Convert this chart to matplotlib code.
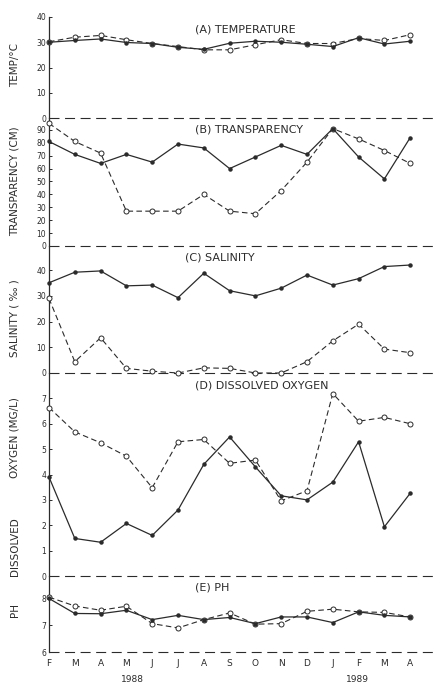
import numpy as np
import matplotlib
matplotlib.use("Agg")
import matplotlib.pyplot as plt
import matplotlib.transforms as mtransforms

# ------------------------------------------------------------------
# Datos (linea continua = puntos llenos,
# linea discontinua = circulos abiertos)
# ------------------------------------------------------------------
meses = ["F", "M", "A", "M", "J", "J", "A", "S", "O", "N", "D", "J", "F", "M", "A"]
anios = ["1988", "1989"]

temp_solida = [30.0, 30.7, 31.3, 29.9, 29.5, 28.0, 27.2, 29.6, 30.4, 30.0, 29.2, 28.3, 31.8, 29.3, 30.4]
temp_discont = [30.2, 32.0, 32.7, 31.0, 29.5, 28.3, 27.0, 27.0, 29.0, 31.0, 29.5, 29.5, 31.5, 30.7, 33.0]

transp_solida = [81, 71, 64, 71, 65, 79, 76, 60, 69, 78, 71, 91, 69, 52, 84]
transp_discont = [95, 81, 72, 27, 27, 27, 40, 27, 25, 43, 65, 91, 83, 74, 64]

sal_solida = [35.1, 39.2, 39.7, 33.9, 34.2, 29.3, 38.8, 32.0, 30.0, 33.0, 38.1, 34.2, 36.7, 41.4, 42.0]
sal_discont = [29.0, 4.4, 13.7, 1.8, 0.7, 0.0, 2.0, 1.8, 0.0, 0.0, 4.4, 12.5, 19.0, 9.3, 7.9]

oxi_solida = [3.9, 1.48, 1.33, 2.07, 1.6, 2.6, 4.4, 5.48, 4.3, 3.16, 3.0, 3.7, 5.29, 1.94, 3.26]
oxi_discont = [6.64, 5.68, 5.25, 4.72, 3.48, 5.29, 5.38, 4.44, 4.57, 2.96, 3.36, 7.19, 6.1, 6.25, 6.0]

ph_solida = [8.0, 7.44, 7.43, 7.56, 7.21, 7.37, 7.21, 7.29, 7.06, 7.31, 7.31, 7.1, 7.5, 7.37, 7.31]
ph_discont = [8.05, 7.72, 7.56, 7.71, 7.06, 6.9, 7.21, 7.46, 7.04, 7.06, 7.52, 7.6, 7.5, 7.48, 7.31]

# ------------------------------------------------------------------
# Paneles: (titulo, serie continua, serie discontinua, ylim, yticks, borde sup/inf en px)
# ------------------------------------------------------------------
W, H = 435, 687
paneles = [
    ("(A) TEMPERATURE", temp_solida, temp_discont, (0, 40), [0, 10, 20, 30, 40], 17, 118, 195),
    ("(B) TRANSPARENCY", transp_solida, transp_discont, (0, 99.2), list(range(0, 100, 10)), 118, 246, 195),
    ("(C) SALINITY", sal_solida, sal_discont, (0, 49.4), [0, 10, 20, 30, 40], 246, 373, 185),
    ("(D) DISSOLVED OXYGEN", oxi_solida, oxi_discont, (0, 8.0), list(range(0, 8)), 373, 576, 195),
    ("(E) PH", ph_solida, ph_discont, (6, 8.84), [6, 7, 8], 576, 652, 195),
]

color = "#2b2b2b"
x = np.arange(len(meses))
x_izq, x_der = 49 / W, 434 / W
guiones = (0, (9, 5))

fig = plt.figure(figsize=(W / 100, H / 100), dpi=100)

ejes = []
for titulo, sol, dis, ylim, yticks, top, bot, tx in paneles:
    ax = fig.add_axes([x_izq, 1 - bot / H, x_der - x_izq, (bot - top) / H])
    ax.plot(x, dis, color=color, lw=0.8, ls=(0, (5, 3)), marker="o", ms=3.6,
            mfc="white", mec=color, mew=0.7, clip_on=False, zorder=3)
    ax.plot(x, sol, color=color, lw=0.9, marker="o", ms=2.2,
            mfc=color, mec=color, clip_on=False, zorder=4)
    ax.axhline(ylim[0], color=color, lw=0.8, ls=guiones, zorder=1, clip_on=False)
    ax.set_xlim(0, (434 - 49) / 25.8)
    ax.set_ylim(*ylim)
    ax.set_yticks(yticks)
    ax.tick_params(axis="y", direction="in", length=2.5, width=0.7, labelsize=5.5,
                   pad=2, colors=color)
    for s in ["top", "right", "bottom"]:
        ax.spines[s].set_visible(False)
    ax.spines["left"].set_color(color)
    ax.spines["left"].set_linewidth(0.9)
    ax.set_xticks([])
    ax.patch.set_alpha(0)
    fig.text(tx / W, 1 - (top + 12) / H, titulo, fontsize=8, color=color,
             ha="left", va="center")
    ejes.append(ax)

# eje x del ultimo panel
ax_e = ejes[-1]
ax_e.set_xticks(x)
ax_e.set_xticklabels(meses, fontsize=6.5, color=color)
ax_e.set_xticks(np.arange(2, 15, 2), minor=True)
ax_e.tick_params(axis="x", which="major", length=0, pad=5)
ax_e.tick_params(axis="x", which="minor", direction="in", length=4, width=0.8, colors=color)

trans = mtransforms.blended_transform_factory(ax_e.transData, fig.transFigure)
ax_e.text(3.25, 1 - 679 / H, anios[0], transform=trans, fontsize=6.5, color=color,
          ha="center", va="center")
ax_e.text(11.95, 1 - 679 / H, anios[1], transform=trans, fontsize=6.5, color=color,
          ha="center", va="center")

# etiquetas del eje y
etiquetas = [
    ("TEMP/°C", 65),
    ("TRANSPARENCY (CM)", 181),
    ("SALINITY ( ‰ )", 318),
    ("OXYGEN (MG/L)", 438),
    ("DISSOLVED", 547),
    ("PH", 610),
]
for texto, yc in etiquetas:
    fig.text(15 / W, 1 - yc / H, texto, rotation=90, fontsize=7.5, color=color,
             ha="center", va="center")

fig.savefig("out.png", dpi=100)
